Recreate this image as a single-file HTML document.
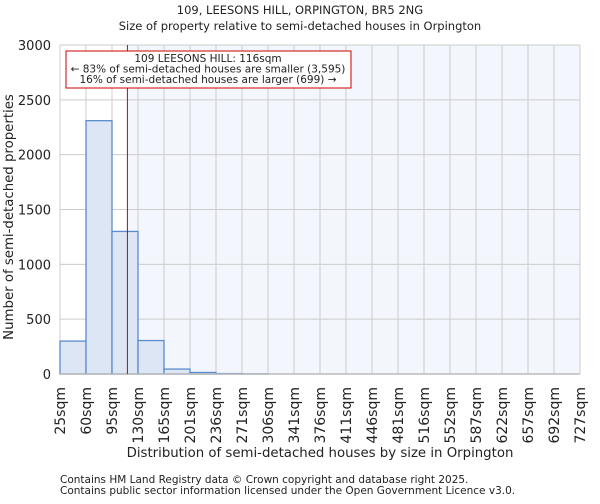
<!DOCTYPE html>
<html><head><meta charset="utf-8"><style>
body{margin:0;background:#fff;font-family:"DejaVu Sans","Liberation Sans",sans-serif;}
svg text{font-family:"DejaVu Sans","Liberation Sans",sans-serif;fill:#222;}
</style></head><body>
<svg id="c" width="600" height="500">
<text x="300" y="14" font-size="11.5" text-anchor="middle">109, LEESONS HILL, ORPINGTON, BR5 2NG</text>
<text x="300" y="30" font-size="11.5" text-anchor="middle">Size of property relative to semi-detached houses in Orpington</text>
<g id="plot"></g>
<text x="320" y="457" font-size="13.3" text-anchor="middle">Distribution of semi-detached houses by size in Orpington</text>
<text transform="translate(13,217) rotate(-90)" font-size="13.3" text-anchor="middle">Number of semi-detached properties</text>
<text x="60" y="483" font-size="10.5">Contains HM Land Registry data © Crown copyright and database right 2025.</text>
<text x="60" y="494" font-size="10.5">Contains public sector information licensed under the Open Government Licence v3.0.</text>
</svg>
<script>
const binLabels=["25sqm","60sqm","95sqm","130sqm","165sqm","201sqm","236sqm","271sqm","306sqm","341sqm","376sqm","411sqm","446sqm","481sqm","516sqm","552sqm","587sqm","622sqm","657sqm","692sqm","727sqm"];
const counts=[300,2310,1300,305,45,14,4,1,0,0,0,0,0,0,0,0,0,0,0,0];
const yTicks=[0,500,1000,1500,2000,2500,3000];
const propertySize=116;
const binStart=25, binWidth=35.1;
const NS="http://www.w3.org/2000/svg";
const X0=60,X1=580,Y0=374,Y1=45,YMAX=3000;
const bw=(X1-X0)/counts.length;
const xs=v=>X0+(v-binStart)/binWidth*bw;
const ys=v=>Y0-(v/YMAX)*(Y0-Y1);
const g=document.getElementById('plot');
function mk(t,a){const e=document.createElementNS(NS,t);for(const k in a)e.setAttribute(k,a[k]);g.appendChild(e);return e;}
const px=xs(propertySize);
let e=mk('rect',{x:px,y:Y1,width:X1-px,height:Y0-Y1,fill:'#f3f6fd'});


yTicks.forEach(t=>{
  let l=mk('line',{x1:X0,x2:X1,y1:ys(t),y2:ys(t),stroke:'#ccc','stroke-width':1});
  
  
  let tx=mk('text',{x:X0-9,y:ys(t)+5,'font-size':13,'text-anchor':'end'});tx.textContent=t;
  
  
});
binLabels.forEach((lab,i)=>{
  const x=X0+i*bw;
  let l=mk('line',{x1:x,x2:x,y1:Y1,y2:Y0,stroke:'#ccc','stroke-width':1});
  
  
  let tx=mk('text',{transform:`translate(${x+5},${Y0+13}) rotate(-90)`,'font-size':14,'text-anchor':'end'});tx.textContent=lab;
  
  
});
counts.forEach((c,i)=>{
  if(c<=0)return;
  let r=mk('rect',{x:X0+i*bw,y:ys(c),width:bw,height:Y0-ys(c),fill:'#dce6f4',stroke:'#5b8bd0','stroke-width':1.3});
  
  
});
e=mk('line',{x1:X0,x2:X1,y1:Y0,y2:Y0,stroke:'#bbb','stroke-width':1.5});


e=mk('line',{x1:px,x2:px,y1:Y1,y2:Y0,stroke:'#cc0000','stroke-width':1});


e=mk('rect',{x:66,y:51,width:285,height:37,fill:'#fff',stroke:'#cc0000','stroke-width':1});


const ann=["109 LEESONS HILL: 116sqm","← 83% of semi-detached houses are smaller (3,595)","16% of semi-detached houses are larger (699) →"];
ann.forEach((s,i)=>{let t=mk('text',{x:208,y:62+i*10.5,'font-size':10.5,'text-anchor':'middle'});t.textContent=s;

});
</script>
</body></html>
